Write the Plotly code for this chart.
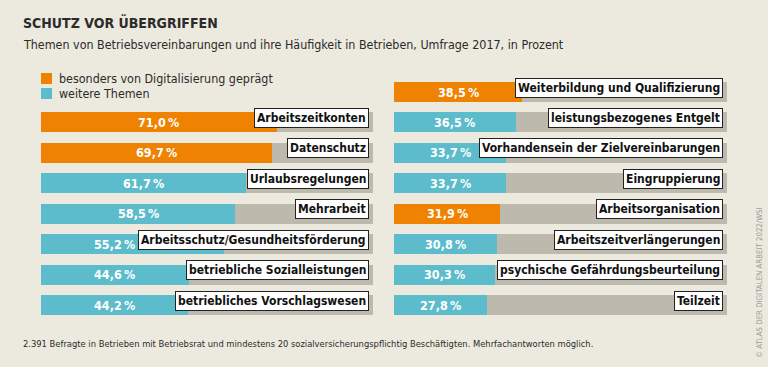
import plotly.graph_objects as go

# ---- data ----
left_topics = ["Arbeitszeitkonten", "Datenschutz", "Urlaubsregelungen", "Mehrarbeit",
               "Arbeitsschutz/Gesundheitsförderung", "betriebliche Sozialleistungen",
               "betriebliches Vorschlagswesen"]
left_values = [71.0, 69.7, 61.7, 58.5, 55.2, 44.6, 44.2]
left_digital = [True, True, False, False, False, False, False]

right_topics = ["Weiterbildung und Qualifizierung", "leistungsbezogenes Entgelt",
                "Vorhandensein der Zielvereinbarungen", "Eingruppierung",
                "Arbeitsorganisation", "Arbeitszeitverlängerungen",
                "psychische Gefährdungsbeurteilung", "Teilzeit"]
right_values = [38.5, 36.5, 33.7, 33.7, 31.9, 30.8, 30.3, 27.8]
right_digital = [True, False, False, False, True, False, False, False]

legend_labels = ["besonders von Digitalisierung geprägt", "weitere Themen"]

title = "SCHUTZ VOR ÜBERGRIFFEN"
subtitle = "Themen von Betriebsvereinbarungen und ihre Häufigkeit in Betrieben, Umfrage 2017, in Prozent"
footnote = ("2.391 Befragte in Betrieben mit Betriebsrat und mindestens 20 sozialversicherungspflichtig "
            "Beschäftigten. Mehrfachantworten möglich.")
source = "© ATLAS DER DIGITALEN ARBEIT 2022/WSI"

# ---- style ----
W, H = 768, 367
BG = "#ECE9DE"
ORANGE = "#EF8200"
TEAL = "#5CBCCB"
GREY = "#BDBAAD"
TXT = "#2b2b2b"
FONT = "DejaVu Sans Condensed, DejaVu Sans, sans-serif"
FONT_B = "DejaVu Sans Condensed, DejaVu Sans, sans-serif"

left_rows = list(range(1, len(left_values) + 1))
right_rows = list(range(0, len(right_values)))

def fmt(v):
    return f"{v:.1f}".replace(".", ",") + "\u2009%"

fig = go.Figure()
BW = 0.66
for xa, rows, vals, dig in [("x", left_rows, left_values, left_digital),
                            ("x2", right_rows, right_values, right_digital)]:
    fig.add_trace(go.Bar(x=[100] * len(rows), y=rows, orientation="h", width=BW,
                         marker=dict(color=GREY, line=dict(width=0)),
                         xaxis=xa, yaxis="y", hoverinfo="skip", showlegend=False))
    fig.add_trace(go.Bar(x=vals, y=rows, orientation="h", width=BW,
                         marker=dict(color=[ORANGE if d else TEAL for d in dig], line=dict(width=0)),
                         xaxis=xa, yaxis="y", showlegend=False))

ann = []
for xa, rows, vals, topics in [("x", left_rows, left_values, left_topics),
                               ("x2", right_rows, right_values, right_topics)]:
    for r, v, t in zip(rows, vals, topics):
        xpos = v / 2 if (xa == "x2" or v > 56) else 22
        ann.append(dict(x=xpos, y=r, xref=xa, yref="y", text=fmt(v), showarrow=False,
                        font=dict(family=FONT_B, size=12.5, color="white", weight="bold"),
                        xanchor="center", yanchor="middle"))
        ann.append(dict(x=98.8, y=r, xref=xa, yref="y", text=t, showarrow=False,
                        font=dict(family=FONT_B, size=12, color="#111", weight="bold"),
                        xanchor="right", yanchor="middle", yshift=4.5,
                        bgcolor="white", bordercolor="#222", borderwidth=1, borderpad=2))

# titles
ann.append(dict(x=21 / W, y=1 - 22 / H, xref="paper", yref="paper", text=title, showarrow=False,
                xanchor="left", yanchor="middle",
                font=dict(family=FONT_B, size=14, color=TXT, weight="bold")))
ann.append(dict(x=21 / W, y=1 - 44 / H, xref="paper", yref="paper", text=subtitle, showarrow=False,
                xanchor="left", yanchor="middle", font=dict(family=FONT, size=12.4, color=TXT)))
ann.append(dict(x=21 / W, y=1 - 343 / H, xref="paper", yref="paper", text=footnote, showarrow=False,
                xanchor="left", yanchor="middle", font=dict(family=FONT, size=9.3, color=TXT)))
ann.append(dict(x=759 / W, y=1 - 283 / H, xref="paper", yref="paper", text=source, showarrow=False,
                xanchor="center", yanchor="middle", textangle=-90,
                font=dict(family=FONT, size=7.8, color="#9a9a9a")))

# legend
shapes = []
for i, (lab, col) in enumerate(zip(legend_labels, [ORANGE, TEAL])):
    yc = 78.5 + i * 15
    shapes.append(dict(type="rect", xref="paper", yref="paper",
                       x0=41 / W, x1=52 / W, y0=1 - (yc - 5.5) / H, y1=1 - (yc + 5.5) / H,
                       fillcolor=col, line=dict(width=0)))
    ann.append(dict(x=57 / W, y=1 - yc / H, xref="paper", yref="paper", text=lab, showarrow=False,
                    xanchor="left", yanchor="middle", font=dict(family=FONT, size=12.4, color=TXT)))

pxrow = (305 - 92) / 7.0
y_top = -92 / pxrow
y_bot = (H - 92) / pxrow

fig.update_layout(
    width=W, height=H, margin=dict(l=0, r=0, t=0, b=0),
    paper_bgcolor=BG, plot_bgcolor=BG, barmode="overlay", bargap=0,
    xaxis=dict(domain=[41 / W, 373 / W], range=[0, 100], visible=False, fixedrange=True),
    xaxis2=dict(domain=[394 / W, 727 / W], range=[0, 100], visible=False, fixedrange=True),
    yaxis=dict(range=[y_bot, y_top], visible=False, fixedrange=True),
    annotations=ann, shapes=shapes, showlegend=False,
)
fig.write_html("out.html", config={"displayModeBar": False},
               post_script="document.body.style.margin='0';document.body.style.padding='0';"
                           "document.body.style.background='" + BG + "';")
